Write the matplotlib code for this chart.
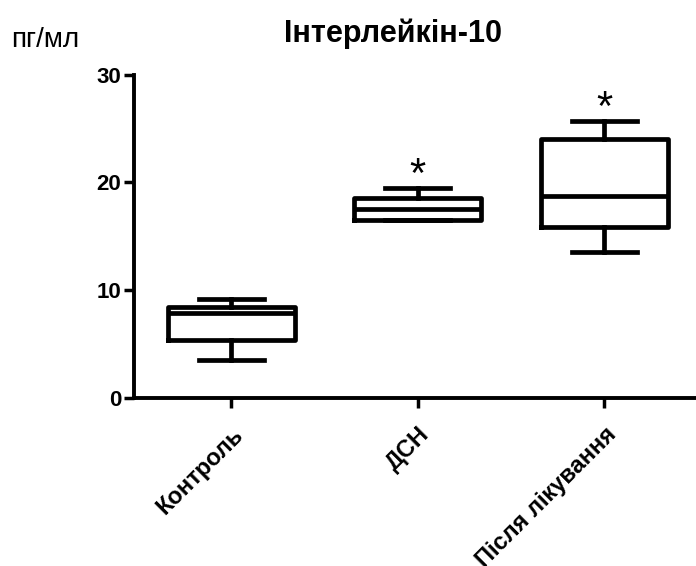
import matplotlib
matplotlib.use("Agg")
import matplotlib.pyplot as plt

# Interleukin-10 levels per group (pg/ml): whiskers, quartiles, median
groups = ["Контроль", "ДСН", "Після лікування"]
whislo = [3.5, 16.5, 13.5]
q1 = [5.4, 16.5, 15.9]
med = [7.9, 17.5, 18.7]
q3 = [8.4, 18.6, 24.0]
whishi = [9.2, 19.5, 25.7]
# significance marks above each group ("" = none)
signif = ["", "*", "*"]

plt.rcParams["font.family"] = ["Liberation Sans", "DejaVu Sans"]

stats = []
for i, g in enumerate(groups):
    stats.append({"label": g, "whislo": whislo[i], "q1": q1[i], "med": med[i],
                  "q3": q3[i], "whishi": whishi[i], "fliers": []})

fig = plt.figure(figsize=(6.96, 5.66), dpi=100)
ax = fig.add_axes([0.192, 0.297, 0.808, 0.571])

lw = 3.4
ax.bxp(stats, positions=[1, 2, 3], widths=0.68, showfliers=False,
       boxprops=dict(color="black", linewidth=lw),
       medianprops=dict(color="black", linewidth=lw),
       whiskerprops=dict(color="black", linewidth=lw),
       capprops=dict(color="black", linewidth=lw),
       capwidths=0.35)

# asterisks above the upper whiskers
for i, s in enumerate(signif):
    if s:
        ax.text(i + 1, whishi[i] + 0.1, s, ha="center", va="baseline",
                fontsize=30, color="black")

ax.set_xlim(0.476, 3.492)
ax.set_ylim(0, 30)
ax.set_yticks([0, 10, 20, 30])
ax.set_xticks([1, 2, 3])
ax.set_xticklabels(groups, rotation=45, ha="right", rotation_mode="anchor",
                   fontsize=17, fontweight="bold")
for lab in ax.get_yticklabels():
    lab.set_fontsize(16)
    lab.set_fontweight("bold")

ax.spines["top"].set_visible(False)
ax.spines["right"].set_visible(False)
ax.spines["left"].set_linewidth(2.8)
ax.spines["bottom"].set_linewidth(2.8)
ax.tick_params(axis="both", width=2.5, length=7, pad=2)
ax.tick_params(axis="x", pad=11)

fig.text(0.565, 0.94, "Інтерлейкін-10", ha="center", va="center",
         fontsize=22, fontweight="bold")
fig.text(0.016, 0.93, "пг/мл", ha="left", va="center", fontsize=20)

fig.savefig("out.png", dpi=100)
